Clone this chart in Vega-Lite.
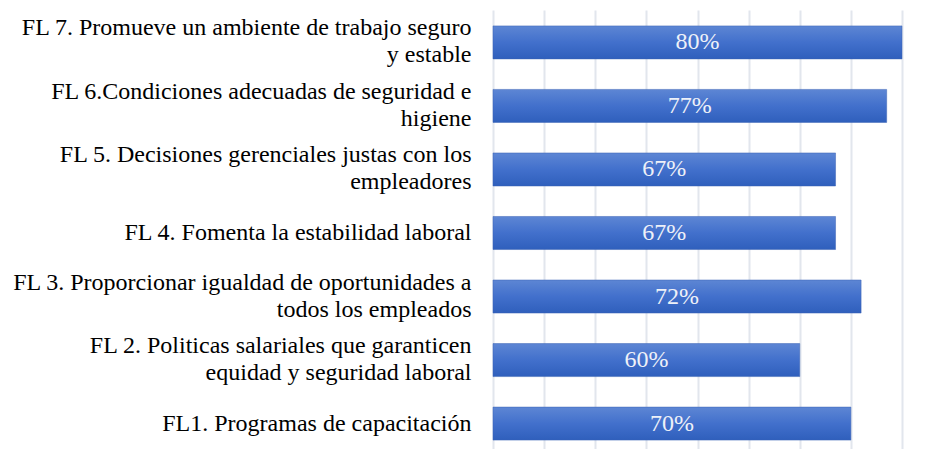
{
  "$schema": "https://vega.github.io/schema/vega-lite/v6.json",
  "autosize": {"type": "none"},
  "padding": {"left": 493, "top": 10, "right": 36, "bottom": 0},
  "width": 409,
  "height": 446,
  "background": "white",
  "config": {"view": {"stroke": null}, "font": "Liberation Serif"},
  "data": {
    "values": [
      {"key": "FL7", "label": "FL 7. Promueve un ambiente de trabajo seguro|y estable", "value": 0.80, "text": "80%"},
      {"key": "FL6", "label": "FL 6.Condiciones adecuadas de seguridad e|higiene", "value": 0.77, "text": "77%"},
      {"key": "FL5", "label": "FL 5. Decisiones gerenciales justas con los|empleadores", "value": 0.67, "text": "67%"},
      {"key": "FL4", "label": "FL 4. Fomenta la estabilidad laboral", "value": 0.67, "text": "67%"},
      {"key": "FL3", "label": "FL 3. Proporcionar igualdad de oportunidades a|todos los empleados", "value": 0.72, "text": "72%"},
      {"key": "FL2", "label": "FL 2. Politicas salariales que garanticen|equidad y seguridad laboral", "value": 0.60, "text": "60%"},
      {"key": "FL1", "label": "FL1. Programas de capacitación", "value": 0.70, "text": "70%"}
    ]
  },
  "layer": [
    {
      "mark": {
        "type": "bar",
        "color": {
          "gradient": "linear",
          "x1": 0, "y1": 0, "x2": 0, "y2": 1,
          "stops": [
            {"offset": 0, "color": "#5d86d4"},
            {"offset": 0.5, "color": "#4270cc"},
            {"offset": 1, "color": "#2f5fbc"}
          ]
        },
        "stroke": "#3a63b5",
        "strokeWidth": 0.5
      },
      "encoding": {
        "y": {
          "field": "label",
          "type": "nominal",
          "sort": null,
          "scale": {"paddingInner": 0.48, "paddingOuter": 0.25},
          "axis": {
            "title": null,
            "domain": false,
            "ticks": false,
            "labelPadding": 22,
            "labelAlign": "right",
            "labelBaseline": {
              "condition": {"test": "indexof(datum.value, '|') >= 0", "value": "line-bottom"},
              "value": "middle"
            },
            "labelFont": "Liberation Serif",
            "labelFontSize": 24,
            "labelLineHeight": 27,
            "labelColor": "#000000",
            "labelLimit": 0,
            "labelExpr": "length(split(datum.label, '|')) > 1 ? [split(datum.label, '|')[0], split(datum.label, '|')[1] + pad('', (indexof(datum.label, 'FL 7') >= 0 ? 30 : indexof(datum.label, 'FL 6') >= 0 ? 29 : indexof(datum.label, 'FL 5') >= 0 ? 24 : indexof(datum.label, 'FL 3') >= 0 ? 22 : 10), '\u00a0')] : datum.label"
          }
        },
        "x": {
          "field": "value",
          "type": "quantitative",
          "scale": {"domain": [0, 0.8], "nice": false, "zero": true},
          "axis": {
            "title": null,
            "labels": false,
            "ticks": false,
            "domain": false,
            "grid": true,
            "gridColor": "#e2e6ed",
            "gridWidth": 2,
            "values": [0, 0.1, 0.2, 0.3, 0.4, 0.5, 0.6, 0.7, 0.8]
          }
        }
      }
    },
    {
      "mark": {
        "type": "text",
        "font": "Liberation Serif",
        "fontSize": 24,
        "color": "#eef1f8",
        "align": "center",
        "baseline": "middle"
      },
      "encoding": {
        "y": {"field": "label", "type": "nominal", "sort": null},
        "x": {
          "field": "value",
          "type": "quantitative",
          "scale": {"domain": [0, 1.6], "nice": false, "zero": true},
          "axis": null
        },
        "text": {"field": "text"}
      }
    }
  ],
  "resolve": {"scale": {"x": "independent"}}
}
